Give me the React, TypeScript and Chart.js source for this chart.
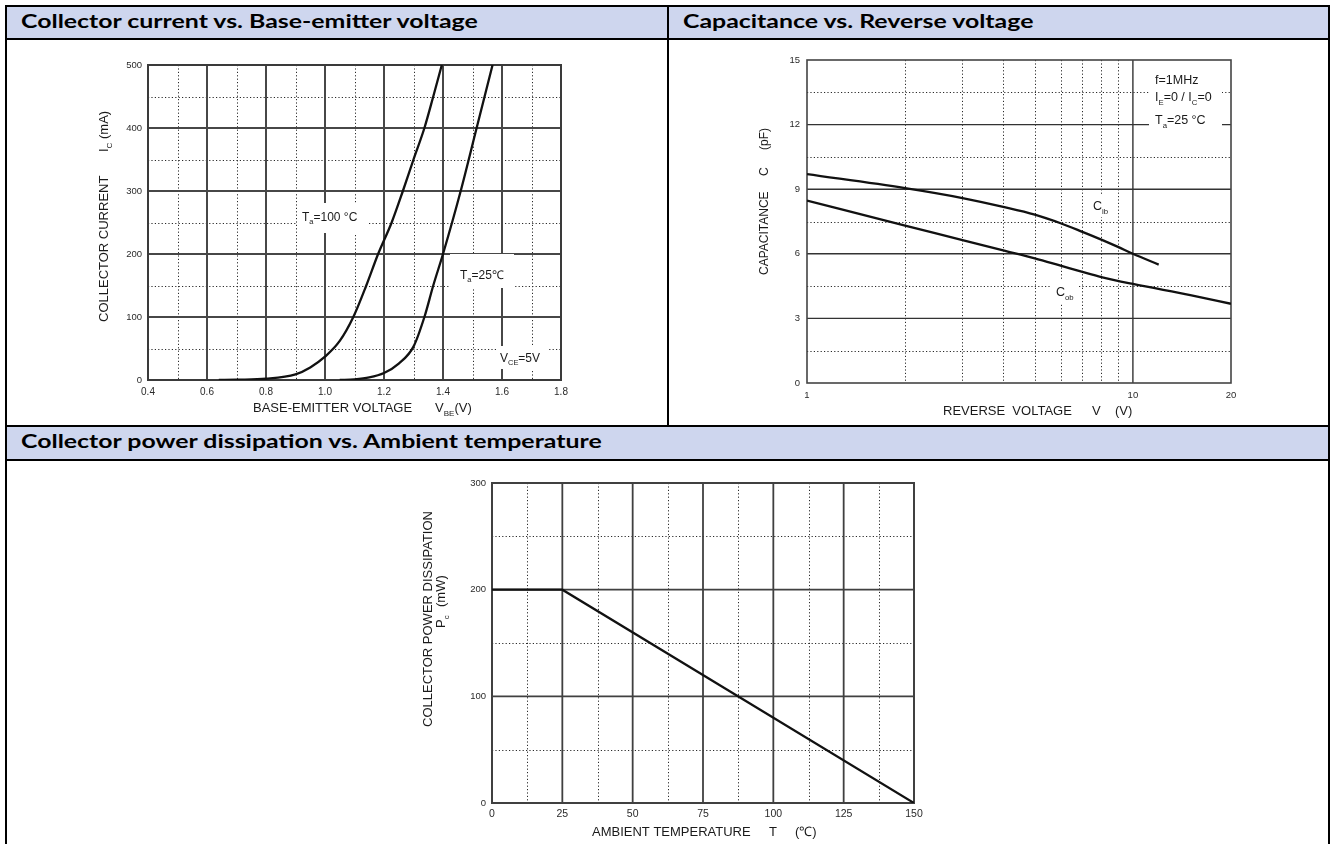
import React, { useEffect, useRef } from "react";
import { Chart, registerables } from "chart.js";
Chart.register(...registerables);

const FONT = '"Liberation Sans", Arial, sans-serif';
const HEAD_FONT = 'Lato, "Open Sans", sans-serif';
const HEAD_BG = "#CED6EE";

// ---------- Chart 1: Collector current vs. Base-emitter voltage ----------
const VBE_100 = [0.64, 0.7, 0.8, 0.9, 0.95, 1.0, 1.05, 1.096, 1.14, 1.18, 1.226, 1.264, 1.3, 1.337, 1.367, 1.396];
const IC_100 = [0, 0.5, 2, 9, 20, 37, 62, 100, 150, 200, 250, 300, 350, 400, 450, 500];
const VBE_25 = [1.05, 1.1, 1.15, 1.2, 1.25, 1.3, 1.337, 1.367, 1.4, 1.46, 1.514, 1.568];
const IC_25 = [0, 1, 4, 11, 26, 53, 100, 150, 200, 300, 400, 500];
const X1_TICKS = [0.4, 0.6, 0.8, 1.0, 1.2, 1.4, 1.6, 1.8];
const X1_MINOR = [0.5, 0.7, 0.9, 1.1, 1.3, 1.5, 1.7];
const Y1_TICKS = [0, 100, 200, 300, 400, 500];
const Y1_MINOR = [50, 150, 250, 350, 450];

// ---------- Chart 2: Capacitance vs. Reverse voltage ----------
const VR_IB = [1, 2, 3, 4, 5, 6, 7, 8, 9, 10, 12];
const C_IB = [9.7, 9.05, 8.59, 8.18, 7.82, 7.42, 7.02, 6.66, 6.32, 6.0, 5.5];
const VR_OB = [1, 2, 3, 4, 5, 6, 7, 8, 10, 15, 20];
const C_OB = [8.47, 7.31, 6.64, 6.16, 5.79, 5.45, 5.16, 4.92, 4.6, 4.08, 3.68];
const X2_TICKS = [1, 10, 20];
const X2_MAJOR = [10];
const X2_MINOR = [2, 3, 4, 5, 6, 7, 8, 9];
const Y2_TICKS = [0, 3, 6, 9, 12, 15];
const Y2_MAJOR = [3, 6, 9, 12];
const Y2_MINOR = [1.5, 4.5, 7.5, 10.5, 13.5];

// ---------- Chart 3: Collector power dissipation vs. Ambient temperature ----------
const TEMP = [0, 25, 150];
const PC = [200, 200, 0];
const X3_TICKS = [0, 25, 50, 75, 100, 125, 150];
const X3_MINOR = [12.5, 37.5, 62.5, 87.5, 112.5, 137.5];
const Y3_TICKS = [0, 100, 200, 300];
const Y3_MINOR = [50, 150, 250];

type Part = { t: string; sub?: boolean; sup?: boolean };
type TextItem = { parts: Part[]; x: number; y: number; size: number; rotate?: boolean };
type Box = [number, number, number, number];

function drawRich(ctx: CanvasRenderingContext2D, it: TextItem) {
  ctx.save();
  ctx.translate(it.x, it.y);
  if (it.rotate) ctx.rotate(-Math.PI / 2);
  ctx.fillStyle = "#1a1a1a";
  ctx.textBaseline = "alphabetic";
  ctx.textAlign = "left";
  let cx = 0;
  for (const p of it.parts) {
    const s = p.sub || p.sup ? it.size * 0.62 : it.size;
    ctx.font = `${s}px ${FONT}`;
    const dy = p.sub ? it.size * 0.28 : p.sup ? -it.size * 0.45 : 0;
    ctx.fillText(p.t, cx, dy);
    cx += ctx.measureText(p.t).width;
  }
  ctx.restore();
}

type GridCfg = {
  xMajor: number[];
  xMinor: number[];
  yMajor: number[];
  yMinor: number[];
  majorWidth: number;
  majorColor: string;
  borderWidth: number;
  borderColor: string;
  boxes: Box[];
  texts: TextItem[];
};

function gridPlugin(cfg: GridCfg) {
  return {
    id: "customGrid",
    beforeDatasetsDraw(chart: any) {
      const { ctx, chartArea: a, scales } = chart;
      const x = scales.x;
      const y = scales.y;
      ctx.save();
      ctx.setLineDash([1.2, 2.2]);
      ctx.lineWidth = 1;
      ctx.strokeStyle = "#2a2a2a";
      for (const v of cfg.xMinor) {
        const px = Math.round(x.getPixelForValue(v)) + 0.5;
        ctx.beginPath();
        ctx.moveTo(px, a.top);
        ctx.lineTo(px, a.bottom);
        ctx.stroke();
      }
      for (const v of cfg.yMinor) {
        const py = Math.round(y.getPixelForValue(v)) + 0.5;
        ctx.beginPath();
        ctx.moveTo(a.left, py);
        ctx.lineTo(a.right, py);
        ctx.stroke();
      }
      ctx.setLineDash([]);
      ctx.lineWidth = cfg.majorWidth;
      ctx.strokeStyle = cfg.majorColor;
      for (const v of cfg.xMajor) {
        const px = x.getPixelForValue(v);
        ctx.beginPath();
        ctx.moveTo(px, a.top);
        ctx.lineTo(px, a.bottom);
        ctx.stroke();
      }
      for (const v of cfg.yMajor) {
        const py = y.getPixelForValue(v);
        ctx.beginPath();
        ctx.moveTo(a.left, py);
        ctx.lineTo(a.right, py);
        ctx.stroke();
      }
      ctx.lineWidth = cfg.borderWidth;
      ctx.strokeStyle = cfg.borderColor;
      ctx.strokeRect(a.left, a.top, a.right - a.left, a.bottom - a.top);
      ctx.fillStyle = "#ffffff";
      for (const b of cfg.boxes) ctx.fillRect(b[0], b[1], b[2], b[3]);
      ctx.restore();
    },
    afterDatasetsDraw(chart: any) {
      const { ctx } = chart;
      for (const t of cfg.texts) drawRich(ctx, t);
    },
  };
}

const W = 1330;
const H = 844;

function tickFont(size: number) {
  return { family: FONT, size };
}

function fixedTicks(arr: number[]) {
  return (s: any) => {
    s.ticks = arr.map((v) => ({ value: v }));
  };
}

function lineDs(xs: number[], ys: number[], smooth: boolean) {
  return {
    data: xs.map((x, i) => ({ x, y: ys[i] })),
    borderColor: "#111",
    borderWidth: 2.3,
    pointRadius: 0,
    cubicInterpolationMode: smooth ? "monotone" : "default",
    fill: false,
  };
}

function baseOptions(L: number, R: number, T: number, B: number) {
  return {
    responsive: false,
    animation: false,
    events: [],
    layout: { padding: { left: L - 40, top: T, right: W - R, bottom: H - B - 40 } },
    plugins: { legend: { display: false }, tooltip: { enabled: false } },
  };
}

function axis(type: string, min: number, max: number, ticks: number[], isX: boolean, size: number, pad: number, fmt: (v: number) => string) {
  return {
    type,
    min,
    max,
    grid: { display: false, drawTicks: false, tickLength: 0 },
    border: { display: false },
    afterBuildTicks: fixedTicks(ticks),
    afterFit: (s: any) => {
      if (isX) s.height = 40;
      else s.width = 40;
    },
    ticks: { callback: (v: any) => fmt(Number(v)), font: tickFont(size), color: "#2a2a2a", padding: pad, maxRotation: 0, autoSkip: false },
  };
}

function makeChart1() {
  return {
    type: "line",
    data: { datasets: [lineDs(VBE_100, IC_100, true), lineDs(VBE_25, IC_25, true)] },
    options: {
      ...baseOptions(148, 561, 65, 380),
      scales: {
        x: axis("linear", 0.4, 1.8, X1_TICKS, true, 10, 6, (v) => v.toFixed(1)),
        y: axis("linear", 0, 500, Y1_TICKS, false, 9.5, 6, (v) => String(v)),
      },
    },
    plugins: [
      gridPlugin({
        xMajor: X1_TICKS,
        xMinor: X1_MINOR,
        yMajor: Y1_TICKS,
        yMinor: Y1_MINOR,
        majorWidth: 2,
        majorColor: "#474747",
        borderWidth: 2,
        borderColor: "#3a3a3a",
        boxes: [
          [297, 203, 70, 30],
          [450, 254, 64, 34],
          [497, 346, 50, 23],
        ],
        texts: [
          { parts: [{ t: "T" }, { t: "a", sub: true }, { t: "=100 °C" }], x: 302, y: 221, size: 12 },
          { parts: [{ t: "T" }, { t: "a", sub: true }, { t: "=25℃" }], x: 460, y: 279, size: 12 },
          { parts: [{ t: "V" }, { t: "CE", sub: true }, { t: "=5V" }], x: 500, y: 362, size: 12 },
          { parts: [{ t: "BASE-EMITTER VOLTAGE" }], x: 253, y: 412, size: 13 },
          { parts: [{ t: "V" }, { t: "BE", sub: true }, { t: "(V)" }], x: 435, y: 412, size: 13 },
          { parts: [{ t: "COLLECTOR CURRENT" }], x: 108, y: 322, size: 13, rotate: true },
          { parts: [{ t: "I" }, { t: "C", sub: true }, { t: " (mA)" }], x: 108, y: 152, size: 13, rotate: true },
        ],
      }),
    ],
  };
}

function makeChart2() {
  return {
    type: "line",
    data: { datasets: [lineDs(VR_IB, C_IB, true), lineDs(VR_OB, C_OB, true)] },
    options: {
      ...baseOptions(807, 1231, 60, 383),
      scales: {
        x: axis("logarithmic", 1, 20, X2_TICKS, true, 9.5, 7, (v) => String(v)),
        y: axis("linear", 0, 15, Y2_TICKS, false, 9.5, 7, (v) => String(v)),
      },
    },
    plugins: [
      gridPlugin({
        xMajor: X2_MAJOR,
        xMinor: X2_MINOR,
        yMajor: Y2_MAJOR,
        yMinor: Y2_MINOR,
        majorWidth: 1.4,
        majorColor: "#333333",
        borderWidth: 1.6,
        borderColor: "#444444",
        boxes: [
          [1149, 67, 73, 62],
          [1089, 196, 23, 21],
          [1050, 281, 28, 22],
        ],
        texts: [
          { parts: [{ t: "f=1MHz" }], x: 1155, y: 84, size: 12.5 },
          { parts: [{ t: "I" }, { t: "E", sub: true }, { t: "=0 / I" }, { t: "C", sub: true }, { t: "=0" }], x: 1155, y: 101, size: 12.5 },
          { parts: [{ t: "T" }, { t: "a", sub: true }, { t: "=25 °C" }], x: 1155, y: 124, size: 12.5 },
          { parts: [{ t: "C" }, { t: "ib", sub: true }], x: 1093, y: 210, size: 12.5 },
          { parts: [{ t: "C" }, { t: "ob", sub: true }], x: 1056, y: 296, size: 12.5 },
          { parts: [{ t: "REVERSE  VOLTAGE" }], x: 943, y: 415, size: 13 },
          { parts: [{ t: "V" }], x: 1092, y: 415, size: 13 },
          { parts: [{ t: "(V)" }], x: 1115, y: 415, size: 13 },
          { parts: [{ t: "CAPACITANCE" }], x: 768, y: 275, size: 12, rotate: true },
          { parts: [{ t: "C" }], x: 768, y: 176, size: 12, rotate: true },
          { parts: [{ t: "(pF)" }], x: 768, y: 150, size: 12, rotate: true },
        ],
      }),
    ],
  };
}

function makeChart3() {
  return {
    type: "line",
    data: { datasets: [lineDs(TEMP, PC, false)] },
    options: {
      ...baseOptions(492, 914, 483, 803),
      scales: {
        x: axis("linear", 0, 150, X3_TICKS, true, 10.5, 5, (v) => String(v)),
        y: axis("linear", 0, 300, Y3_TICKS, false, 9.5, 6, (v) => String(v)),
      },
    },
    plugins: [
      gridPlugin({
        xMajor: X3_TICKS,
        xMinor: X3_MINOR,
        yMajor: Y3_TICKS,
        yMinor: Y3_MINOR,
        majorWidth: 1.8,
        majorColor: "#404040",
        borderWidth: 2,
        borderColor: "#404040",
        boxes: [],
        texts: [
          { parts: [{ t: "AMBIENT TEMPERATURE" }], x: 592, y: 836, size: 13 },
          { parts: [{ t: "T" }], x: 769, y: 836, size: 13 },
          { parts: [{ t: "(℃)" }], x: 795, y: 836, size: 13 },
          { parts: [{ t: "COLLECTOR POWER DISSIPATION" }], x: 432, y: 727, size: 13, rotate: true },
          { parts: [{ t: "P" }, { t: "c", sub: true }], x: 445, y: 628, size: 13, rotate: true },
          { parts: [{ t: "(mW)" }], x: 445, y: 607, size: 13, rotate: true },
        ],
      }),
    ],
  };
}

function ChartLayer({ make }: { make: () => any }) {
  const ref = useRef<HTMLCanvasElement>(null);
  useEffect(() => {
    const chart = new Chart(ref.current as HTMLCanvasElement, make());
    return () => chart.destroy();
  }, []);
  return (
    <canvas
      ref={ref}
      width={W}
      height={H}
      style={{ position: "absolute", left: 0, top: 0, width: W, height: H, display: "block" }}
    />
  );
}

function Rect({ l, t, w, h, c }: { l: number; t: number; w: number; h: number; c: string }) {
  return <div style={{ position: "absolute", left: l, top: t, width: w, height: h, background: c }} />;
}

function Header({ text, l, t }: { text: string; l: number; t: number }) {
  return (
    <div
      style={{
        position: "absolute",
        left: l,
        top: t,
        fontFamily: HEAD_FONT,
        fontWeight: 700,
        fontSize: 19.5,
        lineHeight: "20px",
        color: "#000",
        whiteSpace: "nowrap",
        transform: "scaleX(1.275)",
        transformOrigin: "left center",
      }}
    >
      {text}
    </div>
  );
}

export default function App() {
  return (
    <div style={{ position: "fixed", left: 0, top: 0, width: W, height: H, background: "#fff", overflow: "hidden" }}>
      <Rect l={7} t={7} w={1321} h={31} c={HEAD_BG} />
      <Rect l={7} t={427} w={1321} h={32} c={HEAD_BG} />
      <Header text="Collector current vs. Base-emitter voltage" l={21} t={11} />
      <Header text="Capacitance vs. Reverse voltage" l={683} t={11} />
      <Header text="Collector power dissipation vs. Ambient temperature" l={21} t={431} />
      <ChartLayer make={makeChart1} />
      <ChartLayer make={makeChart2} />
      <ChartLayer make={makeChart3} />
      <Rect l={5} t={5} w={1325} h={2} c="#000" />
      <Rect l={5} t={38} w={1325} h={2} c="#000" />
      <Rect l={5} t={425} w={1325} h={2} c="#000" />
      <Rect l={5} t={459} w={1325} h={2} c="#000" />
      <Rect l={5} t={5} w={2} h={839} c="#000" />
      <Rect l={1328} t={5} w={2} h={839} c="#000" />
      <Rect l={667} t={5} w={2} h={422} c="#000" />
    </div>
  );
}
